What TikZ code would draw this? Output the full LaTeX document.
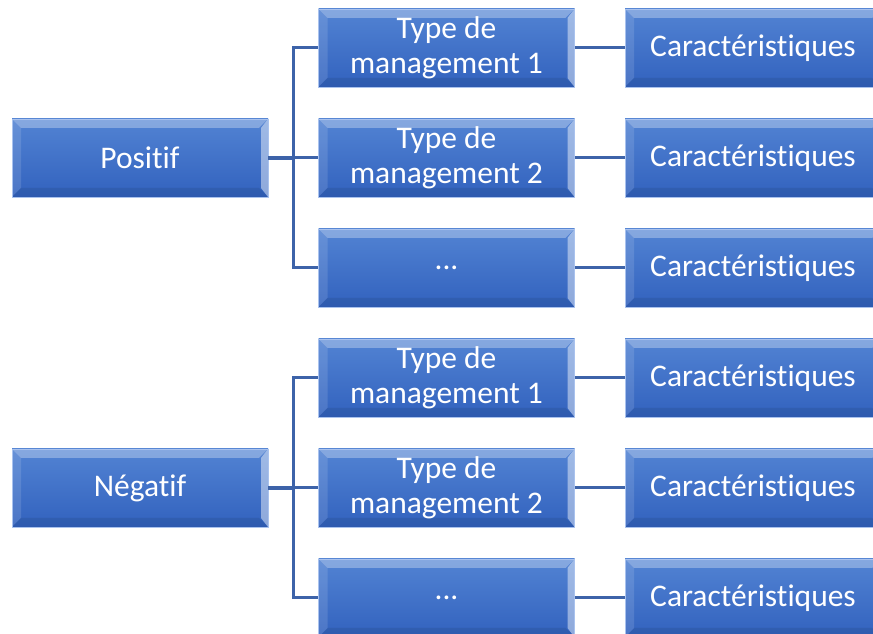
\documentclass[tikz,border=0pt]{standalone}
\usepackage{fontspec}
\newfontfamily\boxfont[Ligatures=NoCommon]{Carlito}
\definecolor{boxtop}{HTML}{5283D3}
\definecolor{boxbot}{HTML}{3262BE}
\definecolor{boxedge}{HTML}{A9C2EE}
\definecolor{linecol}{HTML}{3D63A9}
\begin{document}
\begin{tikzpicture}[
  x=1pt, y=1pt,
  bevelbox/.style={rectangle, draw=boxedge, line width=0.8pt, top color=boxtop, bottom color=boxbot,
    minimum width=256pt, minimum height=78pt, inner sep=0pt, align=center, text=white,
    font=\boxfont\fontsize{31.5}{35}\selectfont,
    path picture={
      \fill[white, opacity=0.30] (path picture bounding box.north west) -- (path picture bounding box.north east)
        -- ([shift={(-9pt,-9pt)}]path picture bounding box.north east) -- ([shift={(9pt,-9pt)}]path picture bounding box.north west) -- cycle;
      \fill[white, opacity=0.12] (path picture bounding box.north west) -- ([shift={(9pt,-9pt)}]path picture bounding box.north west)
        -- ([shift={(9pt,9pt)}]path picture bounding box.south west) -- (path picture bounding box.south west) -- cycle;
      \fill[white, opacity=0.45] (path picture bounding box.north east) -- ([shift={(-7pt,-9pt)}]path picture bounding box.north east)
        -- ([shift={(-7pt,9pt)}]path picture bounding box.south east) -- (path picture bounding box.south east) -- cycle;
      \fill[black, opacity=0.08] (path picture bounding box.south west) -- ([shift={(9pt,9pt)}]path picture bounding box.south west)
        -- ([shift={(-9pt,9pt)}]path picture bounding box.south east) -- (path picture bounding box.south east) -- cycle;
    }},
  link/.style={draw=linecol, line width=3pt},
  stem/.style={draw=linecol, line width=4pt}
]
  \useasboundingbox (0,0) rectangle (873,634);

  % Branches
  \node[bevelbox] (pos) at (140,476) {Positif};
  \node[bevelbox] (neg) at (140,146) {Négatif};

  % Types de management
  \node[bevelbox] (p1) at (446.5,586) {Type de\\management 1};
  \node[bevelbox] (p2) at (446.5,476) {Type de\\management 2};
  \node[bevelbox] (p3) at (446.5,366) {...};
  \node[bevelbox] (n1) at (446.5,256) {Type de\\management 1};
  \node[bevelbox] (n2) at (446.5,146) {Type de\\management 2};
  \node[bevelbox] (n3) at (446.5,36) {...};

  % Caractéristiques
  \node[bevelbox] (cp1) at (753,586) {Caractéristiques};
  \node[bevelbox] (cp2) at (753,476) {Caractéristiques};
  \node[bevelbox] (cp3) at (753,366) {Caractéristiques};
  \node[bevelbox] (cn1) at (753,256) {Caractéristiques};
  \node[bevelbox] (cn2) at (753,146) {Caractéristiques};
  \node[bevelbox] (cn3) at (753,36) {Caractéristiques};

  % Liens
  \draw[stem] (pos.east) -- ++(25,0) coordinate (pj);
  \draw[link] (pj) |- (p1.west);
  \draw[link] (pj) |- (p2.west);
  \draw[link] (pj) |- (p3.west);
  \draw[stem] (neg.east) -- ++(25,0) coordinate (nj);
  \draw[link] (nj) |- (n1.west);
  \draw[link] (nj) |- (n2.west);
  \draw[link] (nj) |- (n3.west);
  \draw[link] (p1.east) -- (cp1.west);
  \draw[link] (p2.east) -- (cp2.west);
  \draw[link] (p3.east) -- (cp3.west);
  \draw[link] (n1.east) -- (cn1.west);
  \draw[link] (n2.east) -- (cn2.west);
  \draw[link] (n3.east) -- (cn3.west);
\end{tikzpicture}
\end{document}
